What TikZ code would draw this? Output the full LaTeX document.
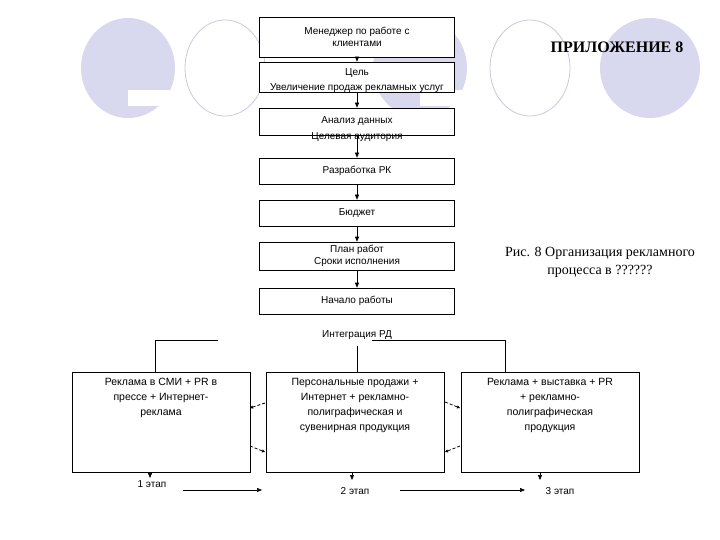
\documentclass[tikz,border=0pt]{standalone}
\usepackage{fontspec}
\setmainfont{Liberation Sans}
\newfontfamily\serif{Liberation Serif}
\usetikzlibrary{arrows.meta}
\definecolor{lav}{RGB}{216,216,238}
\definecolor{lavline}{RGB}{200,200,225}
\begin{document}
\begin{tikzpicture}[x=1pt,y=-1pt,
  box/.style={draw,semithick,minimum width=195pt,inner sep=0pt,font=\fontsize{10}{12}\selectfont,align=center},
  bbox/.style={draw,semithick,minimum width=178pt,minimum height=100pt,inner sep=0pt},
  btxt/.style={anchor=north,inner sep=0pt,font=\fontsize{10.5}{15}\selectfont,align=center},
  lbl/.style={font=\fontsize{10}{12}\selectfont,align=center,inner sep=0pt},
  arr/.style={-{Triangle[length=5pt,width=4pt]},semithick},
  dlink/.style={densely dashed,thick,-{Triangle[length=3pt,width=3pt]}}]
\useasboundingbox (0,0) rectangle (720,540);
% decorative circles
\fill[lav] (128,68) ellipse (47 and 50);
\fill[white] (128,90) rectangle (177,106);
\draw[lavline,thick] (225,68) ellipse (40 and 48);
\fill[lav] (420,68) ellipse (47 and 50);
\fill[white] (420,90) rectangle (470,106);
\draw[lavline,thick] (530,68) ellipse (40 and 48);
\fill[lav] (650,68) ellipse (50 and 50);
\node[font=\serif\bfseries\fontsize{16}{18}\selectfont] (title) at (617,47) {ПРИЛОЖЕНИЕ 8};
\node[font=\serif\fontsize{14}{18}\selectfont,align=center] (cap) at (600,262) {Рис. 8 Организация рекламного\\процесса в ??????};
% vertical chain
\node[box,fill=white,minimum height=40pt] (b1) at (357,37) {Менеджер по работе с\\клиентами};
\node[box,fill=white,minimum height=30pt] (b2) at (357,77) {};
\node[lbl] (t2) at (357,73) {Цель};
\node[lbl] (t2b) at (357,88) {Увеличение продаж рекламных услуг};
\node[box,fill=white,minimum height=27pt] (b3) at (357,121.5) {};
\node[lbl] (t3) at (357,121) {Анализ данных};
\node[lbl] (t3b) at (357,137) {Целевая аудитория};
\node[box,minimum height=26pt] (b4) at (357,171) {Разработка РК};
\node[box,minimum height=26pt] (b5) at (357,213) {Бюджет};
\node[box,minimum height=28pt] (b6) at (357,256) {План работ\\Сроки исполнения};
\node[box,minimum height=26pt] (b7) at (357,301) {Начало работы};
\foreach \a/\b in {b1/b2,b2/b3,b3/b4,b4/b5,b5/b6,b6/b7} \draw[arr] (\a) -- (\b);
\node[lbl] (integ) at (357,335) {Интеграция РД};
% bottom boxes
\node[bbox] (l) at (161,422) {};
\node[bbox] (m) at (355,422) {};
\node[bbox] (r) at (550,422) {};
\node[btxt] (lt) at (161,378) {Реклама в СМИ + PR в\\прессе + Интернет-\\реклама};
\node[btxt] (mt) at (355,378) {Персональные продажи +\\Интернет + рекламно-\\полиграфическая и\\сувенирная продукция};
\node[btxt] (rt) at (550,378) {Реклама + выставка + PR\\+ рекламно-\\полиграфическая\\продукция};
\coordinate (i1) at (218,340);
\coordinate (i2) at (372,340);
\draw (i1) -- (155,340) -- (155,372);
\draw (i2) -- (505,340) -- (505,372);
\draw (357,346) -- (357,372);
% dashed links
\draw[dlink] (265,403) -- (250,408);
\draw[dlink] (250,446) -- (265,452);
\draw[dlink] (445,402) -- (460,408);
\draw[dlink] (460,446) -- (445,452);
% stages
\node[lbl] (s1) at (152,484) {1 этап};
\node[lbl] (s2) at (355,491) {2 этап};
\node[lbl] (s3) at (560,491) {3 этап};
\draw[arr] (150,472) -- (150,478);
\draw[arr] (352,472) -- (352,480);
\draw[arr] (540,472) -- (540,480);
\draw[arr] (183,490) -- (262,490);
\draw[arr] (400,490) -- (525,490);
\end{tikzpicture}
\end{document}
